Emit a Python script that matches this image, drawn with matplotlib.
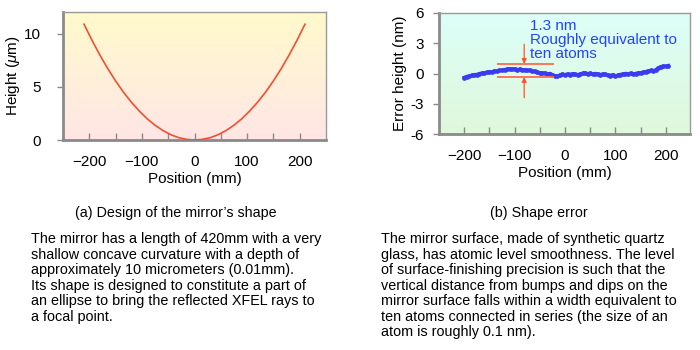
import numpy as np
import matplotlib
matplotlib.use("Agg")
import matplotlib.pyplot as plt
from matplotlib.colors import LinearSegmentedColormap

plt.rcParams['font.family'] = ['Liberation Sans', 'DejaVu Sans']
plt.rcParams['mathtext.fontset'] = 'custom'
plt.rcParams['mathtext.it'] = 'Liberation Sans:italic'
plt.rcParams['mathtext.rm'] = 'Liberation Sans'

# (a) designed mirror shape, height in micrometres
pos_a = [-210, -195, -180, -165, -150, -135, -120, -105, -90, -75, -60, -45, -30, -15, 0,
         15, 30, 45, 60, 75, 90, 105, 120, 135, 150, 165, 180, 195, 210]
height_a = [10.9, 9.40, 8.01, 6.73, 5.56, 4.50, 3.56, 2.73, 2.00, 1.39, 0.89, 0.50, 0.22, 0.06, 0.0,
            0.06, 0.22, 0.50, 0.89, 1.39, 2.00, 2.73, 3.56, 4.50, 5.56, 6.73, 8.01, 9.40, 10.9]

# (b) measured shape error, nm
pos_b = list(range(-200, 206, 5))
err_b = [-0.40, -0.30, -0.25, -0.18, -0.12, -0.10, -0.02, 0.03, 0.06, 0.12,
         0.18, 0.15, 0.24, 0.22, 0.30, 0.33, 0.38, 0.42, 0.48, 0.42,
         0.45, 0.38, 0.42, 0.35, 0.38, 0.30, 0.33, 0.22, 0.20, 0.12,
         0.08, 0.02, 0.05, -0.05, 0.00, -0.12, -0.22, -0.28, -0.15, -0.08,
         -0.12, -0.05, -0.10, -0.02, -0.08, -0.15, -0.05, 0.02, 0.05, -0.03,
         0.02, -0.08, 0.00, -0.05, -0.12, -0.05, -0.08, -0.15, -0.20, -0.12,
         -0.25, -0.18, -0.10, -0.05, 0.00, -0.03, 0.02, -0.06, 0.00, 0.05,
         0.07, 0.12, 0.18, 0.25, 0.30, 0.28, 0.35, 0.55, 0.68, 0.72,
         0.70, 0.78]

band_top, band_bottom = 0.95, -0.35
xticks = [-200, -100, 0, 100, 200]

caption_a = "(a) Design of the mirror\u2019s shape"
text_a = ("The mirror has a length of 420mm with a very\n"
          "shallow concave curvature with a depth of\n"
          "approximately 10 micrometers (0.01mm).\n"
          "Its shape is designed to constitute a part of\n"
          "an ellipse to bring the reflected XFEL rays to\n"
          "a focal point.")
caption_b = "(b) Shape error"
text_b = ("The mirror surface, made of synthetic quartz\n"
          "glass, has atomic level smoothness. The level\n"
          "of surface-finishing precision is such that the\n"
          "vertical distance from bumps and dips on the\n"
          "mirror surface falls within a width equivalent to\n"
          "ten atoms connected in series (the size of an\n"
          "atom is roughly 0.1 nm).")

fig = plt.figure(figsize=(7, 3.5), dpi=100)
ax1 = fig.add_axes([63/700, 1-140/350, 263/700, 128/350])
ax2 = fig.add_axes([439/700, 1-134/350, 251/700, 121/350])


def style(ax, xlim, ylim, top_col, bot_col, ypad):
    cmap = LinearSegmentedColormap.from_list('bg', [bot_col, top_col])
    grad = np.linspace(0, 1, 256).reshape(-1, 1)
    ax.imshow(grad, cmap=cmap, origin='lower', aspect='auto',
              extent=[xlim[0], xlim[1], ylim[0], ylim[1]], zorder=0)
    ax.set_xlim(*xlim)
    ax.set_ylim(*ylim)
    for side in ['left', 'bottom']:
        ax.spines[side].set_color('#8a8a8a')
        ax.spines[side].set_linewidth(2)
    for side in ['top', 'right']:
        ax.spines[side].set_color('#9a9a9a')
        ax.spines[side].set_linewidth(1)
    ax.set_xticks(xticks)
    ax.set_xticks([-150, -50, 50, 150], minor=True)
    ax.tick_params(axis='x', which='both', direction='in', length=5, width=1,
                   color='#8a8a8a', pad=11, labelsize=11)
    ax.tick_params(axis='y', direction='out', length=4, width=1,
                   color='#8a8a8a', pad=ypad, labelsize=11)
    ax.set_xticklabels(['\u2212200', '\u2212100', '0', '100', '200'])


style(ax1, (-250, 250), (0, 12.05), '#fffacc', '#ffe6e6', 12)
ax1.plot(pos_a, height_a, color='#f05030', lw=1.2, zorder=3)
ax1.set_yticks([0, 5, 10])
ax1.set_xlabel('Position (mm)', fontsize=11, labelpad=2)
ax1.set_ylabel('Height ($\\mu$m)', fontsize=11, labelpad=1)

style(ax2, (-250, 248), (-6, 6), '#dcfff8', '#e0f8dc', 7)
ax2.set_yticks([-6, -3, 0, 3, 6])
ax2.set_yticklabels(['-6', '-3', '0', '3', '6'])
ax2.plot(pos_b, err_b, color='#3b3bf0', lw=2.5, marker='o', ms=2.4,
         mec='#3b3bf0', zorder=3)
ax2.hlines([band_top, band_bottom], -135, -22, color='#ff6a50', lw=1.3, zorder=4)
ax2.annotate('', xy=(-81, band_top), xytext=(-81, 2.9),
             arrowprops=dict(arrowstyle='-|>', color='#ff5030', lw=0.9,
                             mutation_scale=7, shrinkA=0, shrinkB=0), zorder=4)
ax2.annotate('', xy=(-81, band_bottom), xytext=(-81, -2.4),
             arrowprops=dict(arrowstyle='-|>', color='#ff5030', lw=0.9,
                             mutation_scale=7, shrinkA=0, shrinkB=0), zorder=4)
ax2.text(-70, 5.45, '1.3 nm\nRoughly equivalent to\nten atoms', color='#2244ff',
         fontsize=11, va='top', ha='left', linespacing=1.03, zorder=5)
ax2.set_xlabel('Position (mm)', fontsize=11, labelpad=2)
ax2.set_ylabel('Error height (nm)', fontsize=11, labelpad=2)

fig.text(176/700, 1-213/350, caption_a, ha='center', va='center', fontsize=10.3)
fig.text(539/700, 1-213/350, caption_b, ha='center', va='center', fontsize=10.3)
fig.text(31/700, 1-232/350, text_a, ha='left', va='top', fontsize=10.35, linespacing=1.14)
fig.text(381/700, 1-232/350, text_b, ha='left', va='top', fontsize=10.35, linespacing=1.14)

fig.savefig('out.png', dpi=100)
